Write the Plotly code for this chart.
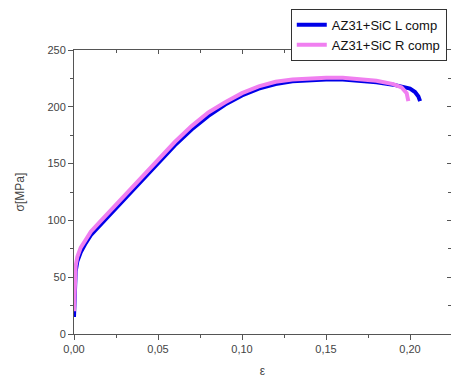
import plotly.graph_objects as go

# strain / stress data
eps_L = [0, 0.0005, 0.001, 0.002, 0.004, 0.007, 0.01, 0.015, 0.02, 0.03, 0.04, 0.05,
         0.06, 0.07, 0.08, 0.09, 0.10, 0.11, 0.12, 0.13, 0.14, 0.15, 0.16, 0.17,
         0.18, 0.19, 0.20, 0.203, 0.205, 0.206]
sig_L = [15, 40, 55, 64, 72, 80, 87, 95, 103, 119, 135, 151,
         166, 180, 192, 202, 210, 216, 220, 222.5, 223.5, 224, 224, 223,
         221.5, 219.5, 216, 213, 209, 205]

eps_R = [0, 0.0005, 0.001, 0.002, 0.004, 0.007, 0.01, 0.015, 0.02, 0.03, 0.04, 0.05,
         0.06, 0.07, 0.08, 0.09, 0.10, 0.11, 0.12, 0.13, 0.14, 0.15, 0.16, 0.17,
         0.18, 0.19, 0.195, 0.198, 0.199]
sig_R = [20, 45, 60, 68, 76, 83, 90, 98, 106, 122, 138, 154,
         169, 183, 195, 204, 212, 218, 222, 224, 225, 225.5, 225.5, 224.5,
         223, 220, 217, 212, 205]

names = ["AZ31+SiC L comp", "AZ31+SiC R comp"]
colors = ["#0000e8", "#f07ff0"]

fig = go.Figure()
fig.add_trace(go.Scatter(x=eps_L, y=sig_L, mode="lines", name=names[0],
                         line=dict(color=colors[0], width=4)))
fig.add_trace(go.Scatter(x=eps_R, y=sig_R, mode="lines", name=names[1],
                         line=dict(color=colors[1], width=4)))
# dummy trace to draw the mirrored (top/right) axes with inside ticks
fig.add_trace(go.Scatter(x=[None], y=[None], xaxis="x2", yaxis="y2",
                         showlegend=False, hoverinfo="skip"))

axcol = "#555555"
xr = [0, 0.2244]
yr = [0, 250]

fig.update_layout(
    width=451, height=380,
    margin=dict(l=74, r=0, t=50, b=46),
    paper_bgcolor="white", plot_bgcolor="white",
    separators=", ",
    font=dict(family="Liberation Sans, Arial", color="#444444", size=11),
    xaxis=dict(range=xr, showgrid=False, zeroline=False, showline=True,
               linecolor=axcol, linewidth=1, ticks="outside", ticklen=5,
               tickcolor=axcol, dtick=0.05, tickformat=".2f",
               minor=dict(dtick=0.025, ticks="outside", ticklen=3, tickcolor=axcol),
               title=dict(text="ε", font=dict(size=12), standoff=12),
               tickfont=dict(size=11)),
    yaxis=dict(range=yr, showgrid=False, zeroline=False, showline=True,
               linecolor=axcol, linewidth=1, ticks="outside", ticklen=5,
               tickcolor=axcol, dtick=50,
               minor=dict(dtick=25, ticks="outside", ticklen=3, tickcolor=axcol),
               title=dict(text="σ[MPa]", font=dict(size=12), standoff=20),
               tickfont=dict(size=11)),
    xaxis2=dict(range=xr, overlaying="x", side="top", anchor="y",
                showgrid=False, zeroline=False, showline=True,
                linecolor=axcol, linewidth=1, ticks="inside", ticklen=4,
                tickcolor=axcol, dtick=0.05, showticklabels=False,
                minor=dict(dtick=0.025, ticks="inside", ticklen=3, tickcolor=axcol)),
    yaxis2=dict(range=yr, overlaying="y", side="right", anchor="x",
                showgrid=False, zeroline=False, showline=True,
                linecolor=axcol, linewidth=1, ticks="inside", ticklen=4,
                tickcolor=axcol, dtick=50, showticklabels=False,
                minor=dict(dtick=25, ticks="inside", ticklen=3, tickcolor=axcol)),
    legend=dict(x=0.575, y=1.145, xanchor="left", yanchor="top",
                bgcolor="white", bordercolor="#333333", borderwidth=1,
                font=dict(size=13, color="#111111"), tracegroupgap=0,
                itemwidth=30),
)

fig.write_html("out.html")
